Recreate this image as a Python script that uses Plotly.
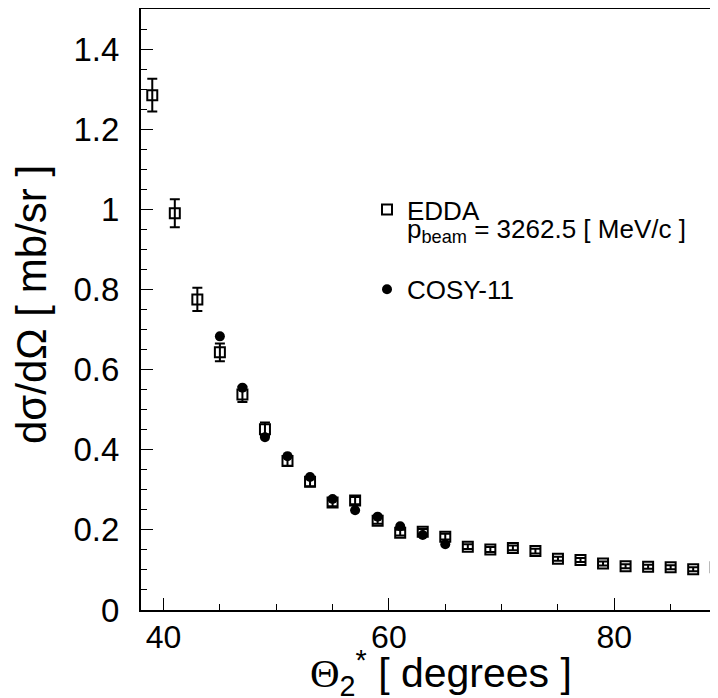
import plotly.graph_objects as go

# ---- data ----
theta_edda = [39, 41, 43, 45, 47, 49, 51, 53, 55, 57, 59, 61, 63, 65, 67, 69, 71, 73, 75, 77, 79, 81, 83, 85, 87, 89]
xs_edda = [1.285, 0.990, 0.775, 0.643, 0.538, 0.451, 0.372, 0.320, 0.268, 0.273, 0.223, 0.193, 0.195,
           0.183, 0.158, 0.151, 0.155, 0.147, 0.128, 0.125, 0.116, 0.109, 0.108, 0.107, 0.102, 0.107]
err_edda = [0.041, 0.035, 0.029, 0.022, 0.019, 0.017, 0.012, 0.011, 0.009, 0.009, 0.008, 0.007, 0.007,
            0.007, 0.006, 0.006, 0.006, 0.006, 0.005, 0.005, 0.005, 0.005, 0.005, 0.005, 0.005, 0.005]

theta_cosy = [45, 47, 49, 51, 53, 55, 57, 59, 61, 63, 65]
xs_cosy = [0.683, 0.555, 0.431, 0.384, 0.332, 0.277, 0.249, 0.233, 0.209, 0.187, 0.164]

x_ticks = [40, 60, 80]
y_ticks = [0, 0.2, 0.4, 0.6, 0.8, 1.0, 1.2, 1.4]
y_tick_labels = ["0", "0.2", "0.4", "0.6", "0.8", "1", "1.2", "1.4"]

FONT = "Liberation Sans, Arial, Helvetica, sans-serif"

fig = go.Figure()
fig.add_trace(go.Scatter(
    x=theta_edda, y=xs_edda, mode="markers", name="EDDA", legendgroup="a",
    marker=dict(symbol="square-open", size=10, color="black", line=dict(width=2, color="black")),
    error_y=dict(type="data", array=err_edda, visible=True, color="black", thickness=2, width=5),
    cliponaxis=True,
))
fig.add_trace(go.Scatter(
    x=theta_cosy, y=xs_cosy, mode="markers", name="COSY-11", legendgroup="b",
    marker=dict(symbol="circle", size=10, color="black"),
))

# figure drawn 8px in from the page's corner (body margin); the frame runs past the window's right edge
W, H = 719, 690
L, R, T, B = 133, 0, 1, 88
pw, ph = W - L - R, H - T - B


def px(xp):
    return (xp - L) / pw


def py(yp):
    return (H - B - yp) / ph


fig.update_layout(
    width=W, height=H,
    margin=dict(l=L, r=R, t=T, b=B, pad=0),
    paper_bgcolor="white", plot_bgcolor="white",
    font=dict(family=FONT, color="black"),
    showlegend=True,
    legend=dict(x=px(359), y=py(178), xanchor="left", yanchor="top",
                font=dict(size=26, family=FONT, color="black"),
                bgcolor="rgba(0,0,0,0)", tracegroupgap=43, itemsizing="trace"),
    xaxis=dict(range=[38, 90], tickvals=x_ticks, ticks="inside", ticklen=12, tickwidth=1,
               tickcolor="black", showline=True, linewidth=2, linecolor="black", mirror=True,
               showgrid=False, zeroline=False, tickfont=dict(size=32, family=FONT), ticklabelstandoff=-2,
               minor=dict(dtick=5, tick0=0, ticks="inside", ticklen=6, tickwidth=1, tickcolor="black", showgrid=False)),
    yaxis=dict(range=[0, 1.5], tickvals=y_ticks, ticktext=y_tick_labels, ticks="inside", ticklen=12, tickwidth=1,
               tickcolor="black", showline=True, linewidth=2, linecolor="black", mirror=False,
               showgrid=False, zeroline=False, tickfont=dict(size=33, family=FONT), ticklabelstandoff=13,
               minor=dict(dtick=0.05, tick0=0, ticks="inside", ticklen=6, tickwidth=1, tickcolor="black", showgrid=False)),
)

# second legend line for EDDA
fig.add_annotation(
    text="p<sub>beam</sub> = 3262.5 [ MeV/c ]", xref="paper", yref="paper",
    x=px(397), y=py(222), xanchor="left", yanchor="middle", showarrow=False,
    font=dict(size=26, family=FONT, color="black"),
)
# axis titles
fig.add_annotation(
    text="d\u03c3/d\u03a9 [ mb/sr ]", xref="paper", yref="paper",
    x=px(23), y=py(297), xanchor="center", yanchor="middle", textangle=-90, showarrow=False,
    font=dict(size=42, family=FONT, color="black"),
)
fig.add_annotation(
    text="<span style=\"font-family:Liberation Serif\">\u0398</span><sub>2</sub><sup>*</sup> [ degrees ]",
    xref="paper", yref="paper",
    x=px(433), y=py(665), xanchor="center", yanchor="middle", showarrow=False,
    font=dict(size=41, family=FONT, color="black"),
)

fig.write_html("out.html")
